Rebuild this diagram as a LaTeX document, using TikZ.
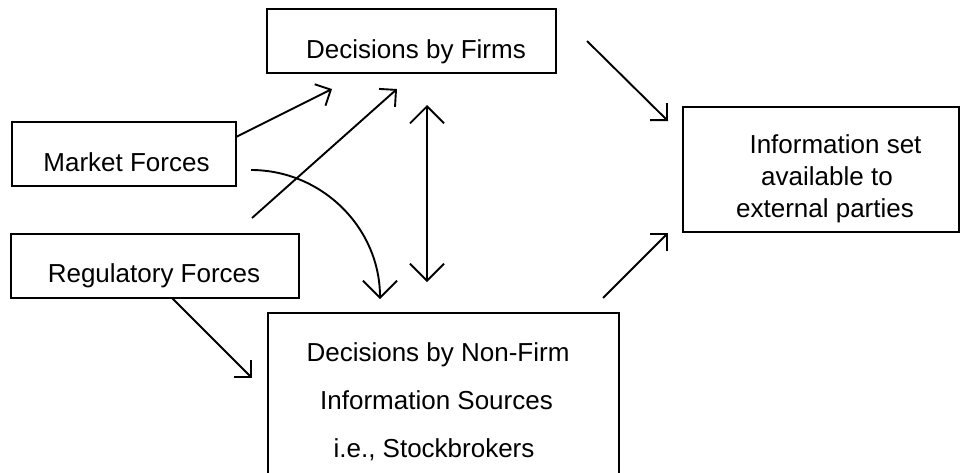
\documentclass[tikz,border=0pt]{standalone}
\usepackage{fontspec}
\setmainfont{Liberation Sans}
\usetikzlibrary{arrows.meta}
\tikzset{
  box/.style={draw, line width=2.2pt, rectangle, inner sep=0pt, outer sep=0pt},
  lbl/.style={anchor=base, inner sep=0pt, font=\fontsize{26}{32}\selectfont},
  arr/.style={line width=1.9pt, -{Straight Barb[length=12pt, width=24pt, line width=1.9pt]}},
  bigarr/.style={line width=1.9pt, {Straight Barb[length=17pt, width=34pt, line width=1.9pt]}-{Straight Barb[length=17pt, width=34pt, line width=1.9pt]}},
  bigtip/.style={line width=1.9pt, -{Straight Barb[length=17pt, width=34pt, line width=1.9pt]}}
}
\begin{document}
\begin{tikzpicture}[x=1pt,y=-1pt]
\useasboundingbox (0,0) rectangle (961,472);
% boxes
\node[box, minimum width=289pt, minimum height=64pt] (firms) at (411.5,41) {};
\node[box, minimum width=224pt, minimum height=64pt] (market) at (124,154) {};
\node[box, minimum width=288pt, minimum height=64pt] (reg) at (155,266) {};
\node[box, minimum width=351pt, minimum height=180pt] (nonfirm) at (443.5,403) {};
\node[box, minimum width=276pt, minimum height=125pt] (info) at (821,169.5) {};
% texts
\node[lbl] (tfirms) at (416,58) {Decisions by Firms};
\node[lbl] (tmarket) at (126.5,171) {Market Forces};
\node[lbl] (treg) at (154,282) {Regulatory Forces};
\node[lbl] (tnf1) at (438,361) {Decisions by Non-Firm};
\node[lbl] (tnf2) at (436.5,409) {Information Sources};
\node[lbl] (tnf3) at (434,457) {i.e., Stockbrokers};
\node[lbl] (tin1) at (835.5,153) {Information set};
\node[lbl] (tin2) at (827,185) {available to};
\node[lbl] (tin3) at (825,217) {external parties};
% connector ends
\coordinate (a1s) at (236,137);  \coordinate (a1e) at (332,89);
\coordinate (a2s) at (252,218);  \coordinate (a2e) at (397,89);
\coordinate (a3s) at (427,105);  \coordinate (a3e) at (427,282);
\coordinate (a4s) at (251,170);  \coordinate (a4e) at (380,299);
\coordinate (a5s) at (172,298);  \coordinate (a5e) at (252,378);
\coordinate (a6s) at (587,41);   \coordinate (a6e) at (668,121);
\coordinate (a7s) at (603,298);  \coordinate (a7e) at (668,233);
% connectors
\draw[arr] (a1s) -- (a1e);
\draw[arr] (a2s) -- (a2e);
\draw[bigarr] (a3s) -- (a3e);
\draw[bigtip] (a4s) .. controls (322,170) and (380,228) .. (a4e);
\draw[arr] (a5s) -- (a5e);
\draw[arr] (a6s) -- (a6e);
\draw[arr] (a7s) -- (a7e);
\end{tikzpicture}
\end{document}
